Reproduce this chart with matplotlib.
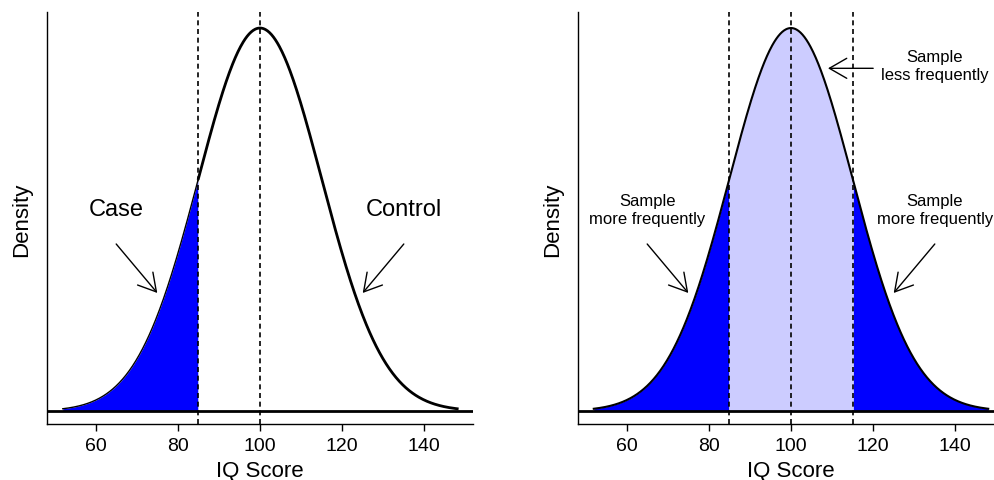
import numpy as np
import matplotlib
matplotlib.use("Agg")
import matplotlib.pyplot as plt

plt.rcParams['font.family'] = ['Liberation Sans', 'DejaVu Sans']

# distribution shown in both panels
iq_mean = 100
iq_sd = 15
x_lo, x_hi = 52, 148
low_cut = 85
high_cut = 115
x_ticks = [60, 80, 100, 120, 140]

# annotations (x, y in data units)
left_labels = [("Case", 65, 0.0140), ("Control", 135, 0.0140)]
left_arrows = [((65, 0.0116), (75, 0.0082)), ((135, 0.0116), (125, 0.0082))]
right_labels = [("Sample\nmore frequently", 65, 0.0140),
                ("Sample\nmore frequently", 135, 0.0140),
                ("Sample\nless frequently", 135, 0.0240)]
right_arrows = [((65, 0.0116), (75, 0.0082)), ((135, 0.0116), (125, 0.0082)),
                ((120, 0.0238), (109, 0.0238))]

def dens(x):
    return np.exp(-0.5 * ((x - iq_mean) / iq_sd) ** 2) / (iq_sd * np.sqrt(2 * np.pi))

xs = np.linspace(x_lo, x_hi, 600)
ys = dens(xs)

W, H = 994, 481
fig = plt.figure(figsize=(W / 100, H / 100), dpi=100)
DASH = (0, (3, 2.2))

def setup(ax):
    ax.set_xlim(48.16, 151.84)
    ax.set_ylim(-0.0009, 0.02771)
    for s in ['top', 'right']:
        ax.spines[s].set_visible(False)
    for s in ['left', 'bottom']:
        ax.spines[s].set_linewidth(1.0)
    ax.set_yticks([])
    ax.set_xticks(x_ticks)
    ax.tick_params(axis='x', length=5, width=1, pad=4.5, labelsize=14)
    ax.patch.set_alpha(0)

def arrow(ax, start, end):
    ax.annotate("", xy=end, xytext=start,
                arrowprops=dict(arrowstyle="->,head_length=1.25,head_width=0.72",
                                mutation_scale=10, lw=1.0, color='black',
                                shrinkA=0, shrinkB=0))

# ---- left panel
ax1 = fig.add_axes([47 / W, 56 / H, 426 / W, 412 / H])
setup(ax1)
m = xs <= low_cut
ax1.fill_between(xs[m], 0, ys[m], color='#0000FF', lw=0)
ax1.plot(xs[m], ys[m], color='black', lw=1.0)
ax1.plot(xs[~m], ys[~m], color='black', lw=2.0)
ax1.axhline(0, color='black', lw=2.0)
for v in [low_cut, iq_mean]:
    ax1.axvline(v, color='black', lw=1.2, ls=DASH)
for t, x, y in left_labels:
    ax1.text(x, y, t, ha='center', va='center', fontsize=17)
for s, e in left_arrows:
    arrow(ax1, s, e)

# ---- right panel
ax2 = fig.add_axes([578 / W, 56 / H, 426 / W, 412 / H])
setup(ax2)
ml = xs <= low_cut
mh = xs >= high_cut
ax2.fill_between(xs, 0, ys, where=(xs >= low_cut) & (xs <= high_cut),
                 color='#CCCCFF', lw=0)
ax2.fill_between(xs[ml], 0, ys[ml], color='#0000FF', lw=0)
ax2.fill_between(xs[mh], 0, ys[mh], color='#0000FF', lw=0)
ax2.plot(xs, ys, color='black', lw=1.5)
ax2.axhline(0, color='black', lw=2.0)
for v in [low_cut, iq_mean, high_cut]:
    ax2.axvline(v, color='black', lw=1.2, ls=DASH)
for t, x, y in right_labels:
    ax2.text(x, y, t, ha='center', va='center', fontsize=12, linespacing=1.25)
for s, e in right_arrows:
    arrow(ax2, s, e)

# axis titles
for off in [0, 531]:
    fig.text((22 + off) / W, 1 - 219.5 / H, "Density", rotation=90,
             ha='center', va='center', fontsize=16)
    fig.text((259.5 + off) / W, 1 - 472 / H, "IQ Score",
             ha='center', va='center', fontsize=16)

fig.savefig("out.png", dpi=100)
